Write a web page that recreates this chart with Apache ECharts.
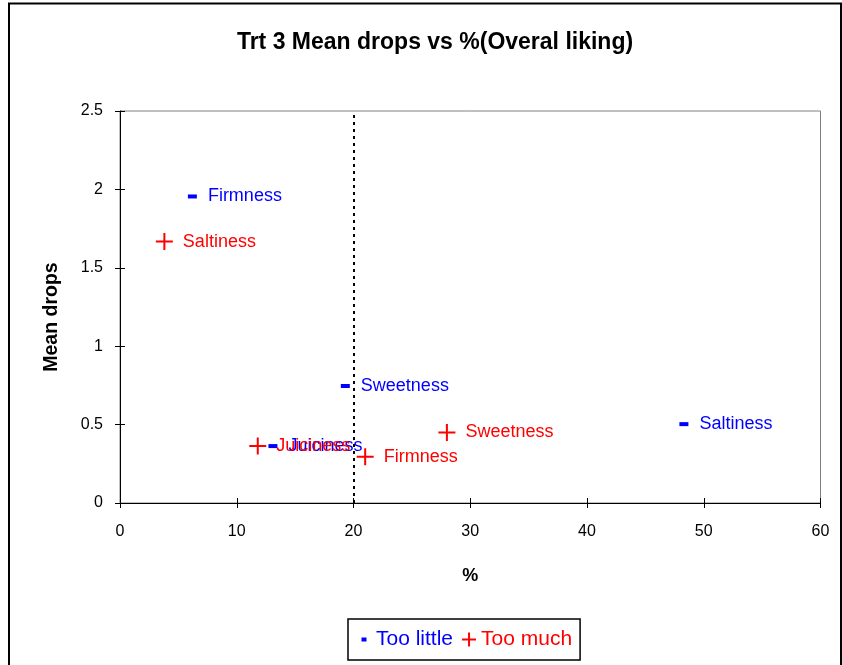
<!DOCTYPE html>
<html><head><meta charset="utf-8">
<script src="https://cdn.jsdelivr.net/npm/echarts@6/dist/echarts.min.js"></script>
<style>html,body{margin:0;padding:0;background:#fff}#c{width:842px;height:665px}</style>
</head><body><div id="c"></div>
<script>
const tooLittleNames = ['Firmness', 'Sweetness', 'Juiciness', 'Saltiness'];
const tooLittleX = [6.2, 19.3, 13.1, 48.3];
const tooLittleY = [1.955, 0.746, 0.363, 0.503];
const tooMuchNames = ['Saltiness', 'Juiciness', 'Firmness', 'Sweetness'];
const tooMuchX = [3.8, 11.8, 21.0, 28.0];
const tooMuchY = [1.667, 0.363, 0.295, 0.45];
const xTicks = [0, 60, 10];
const yTicks = [0, 2.5, 0.5];
const cutoffX = 20;

const FONT = 'Arial, "Liberation Sans", sans-serif';
const DASH = 'path://M0,0H9V4H0Z';
const PLUS = 'path://M0,7.5H17V9.5H0Z M7.5,0H9.5V17H7.5Z';
const LEG_DASH = 'path://M0,0M14,14M4.5,5H9.5V9H4.5Z';
const LEG_PLUS = 'path://M0,6H14V8H0Z M6,0H8V14H6Z';

function pts(names, xs, ys) { return names.map((n, i) => ({ name: n, value: [xs[i], ys[i]] })); }

const tickOnly = (extra) => Object.assign({
  axisLine: { show: false }, axisLabel: { show: false }, splitLine: { show: false },
  axisTick: { show: true, inside: true, length: 5, lineStyle: { color: '#000' } }
}, extra);

const chart = echarts.init(document.getElementById('c'), null, { renderer: 'canvas' });
chart.setOption({
  animation: false,
  backgroundColor: '#fff',
  title: {
    text: 'Trt 3 Mean drops vs %(Overal liking)', left: 430, top: 26, textAlign: 'center',
    textStyle: { fontFamily: FONT, fontSize: 23, fontWeight: 'bold', color: '#000' }
  },
  graphic: [{ type: 'rect', shape: { x: 9, y: 3.5, width: 832, height: 700 }, style: { fill: 'none', stroke: '#000', lineWidth: 2 }, silent: true, z: 100 }],
  grid: { left: 120, right: 21.5, top: 111, bottom: 162, show: true, borderColor: '#808080', borderWidth: 1, backgroundColor: '#fff' },
  xAxis: [{
    type: 'value', min: xTicks[0], max: xTicks[1], interval: xTicks[2],
    name: '%', nameLocation: 'middle', nameGap: 64,
    nameTextStyle: { fontFamily: FONT, fontSize: 18, fontWeight: 'bold', color: '#000' },
    axisLine: { show: true, lineStyle: { color: '#000', width: 1 } },
    axisTick: { show: true, inside: false, length: 5, lineStyle: { color: '#000' } },
    axisLabel: { fontFamily: FONT, fontSize: 16, color: '#000', margin: 21 },
    splitLine: { show: false }
  }, tickOnly({ type: 'value', min: xTicks[0], max: xTicks[1], interval: xTicks[2], position: 'bottom' })],
  yAxis: [{
    type: 'value', min: yTicks[0], max: yTicks[1], interval: yTicks[2],
    name: 'Mean drops', nameLocation: 'middle', nameGap: 58,
    nameTextStyle: { fontFamily: FONT, fontSize: 19.5, fontWeight: 'bold', color: '#000', padding: [0, 20, 0, 0] },
    axisLine: { show: true, lineStyle: { color: '#000', width: 1 } },
    axisTick: { show: true, length: 5, lineStyle: { color: '#000' } },
    axisLabel: { fontFamily: FONT, fontSize: 16, color: '#000', margin: 17 },
    splitLine: { show: false }
  }, tickOnly({ type: 'value', min: yTicks[0], max: yTicks[1], interval: yTicks[2], position: 'left' })],
  legend: {
    left: 348, top: 619,
    padding: [10, 8, 10, 9],
    borderColor: '#000', borderWidth: 1.5,
    itemGap: 9, itemWidth: 14, itemHeight: 14,
    textStyle: { fontFamily: FONT, fontSize: 21 },
    data: [
      { name: 'Too little', icon: LEG_DASH, textStyle: { color: '#0000ff' } },
      { name: 'Too much', icon: LEG_PLUS, textStyle: { color: '#ff0000' } }
    ]
  },
  series: [
    {
      name: 'Too little', type: 'scatter', symbol: DASH, symbolSize: [9, 4],
      itemStyle: { color: '#0000ff', opacity: 1 },
      label: { show: true, position: 'right', distance: 11, formatter: '{b}', fontFamily: FONT, fontSize: 18, color: '#0000ff' },
      data: pts(tooLittleNames, tooLittleX, tooLittleY),
      markLine: {
        silent: true, symbol: 'none', label: { show: false },
        lineStyle: { color: '#000', type: [3, 4], width: 2 },
        data: [[{ coord: [cutoffX, yTicks[0]] }, { coord: [cutoffX, yTicks[1]] }]]
      }
    },
    {
      name: 'Too much', type: 'scatter', symbol: PLUS, symbolSize: 17,
      itemStyle: { color: '#ff0000', opacity: 1 },
      label: { show: true, position: 'right', distance: 10, formatter: '{b}', fontFamily: FONT, fontSize: 18, color: '#ff0000' },
      data: pts(tooMuchNames, tooMuchX, tooMuchY)
    }
  ]
});
</script></body></html>
